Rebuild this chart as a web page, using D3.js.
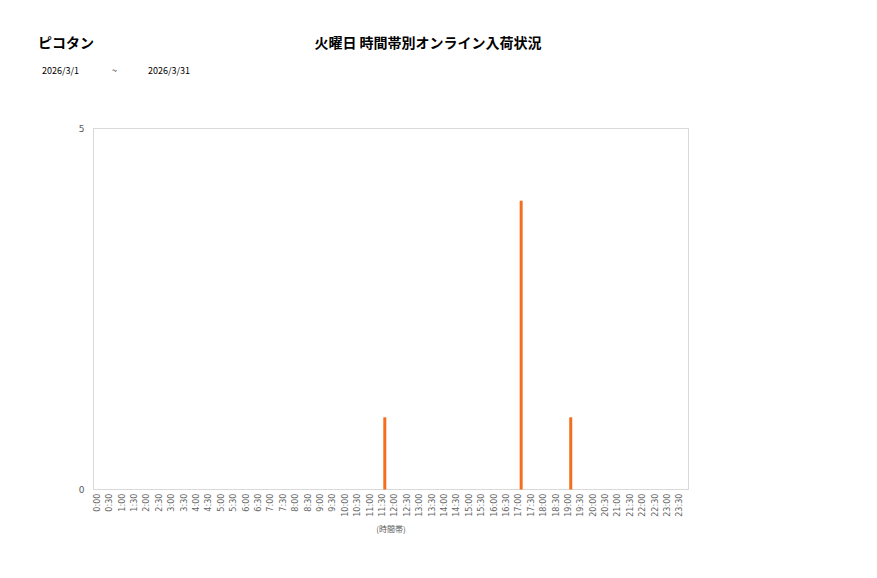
<!DOCTYPE html>
<html><head><meta charset="utf-8">
<script src="https://cdn.jsdelivr.net/npm/d3@7"></script>
<style>body{margin:0;background:#fff;font-family:"Noto Sans CJK JP","Noto Sans",sans-serif;}</style>
</head><body><svg id="c" width="877" height="578"></svg>
<script>
const categories = [];
for (let h = 0; h < 24; h++) { categories.push(h + ":00"); categories.push(h + ":30"); }
const values = categories.map(c => ({"11:30":1,"17:00":4,"19:00":1})[c] || 0);
const yTicks = [0, 5];
const title = "火曜日 時間帯別オンライン入荷状況";
const store = "ピコタン";
const dateFrom = "2026/3/1", dateTo = "2026/3/31";

const svg = d3.select("#c");
const m = {l:93.5, r:688.5, t:128.5, b:489.5};
const x = d3.scaleBand().domain(categories).range([m.l, m.r]);
const y = d3.scaleLinear().domain([0,5]).range([m.b, m.t]);

svg.append("rect").attr("x",m.l).attr("y",m.t).attr("width",m.r-m.l).attr("height",m.b-m.t)
  .attr("fill","none").attr("stroke","#d9d9d9").attr("stroke-width",1);

svg.selectAll(".bar").data(values).enter().append("rect")
  .attr("x",(d,i)=>x(categories[i])+x.bandwidth()/2-1.5).attr("width",3)
  .attr("y",d=>y(d)).attr("height",d=>y(0)-y(d)).attr("fill","#f36f1f");

const xa = svg.append("g").attr("transform",`translate(0,${m.b})`)
  .call(d3.axisBottom(x).tickSize(0).tickPadding(4));
xa.select(".domain").remove();
xa.selectAll("text").attr("transform","rotate(-90)").attr("text-anchor","end")
  .attr("x",-4).attr("y",-3).attr("dy","0.35em").attr("font-size","9px")
  .attr("fill","#666").attr("font-family","DejaVu Sans Condensed, DejaVu Sans, sans-serif");

const ya = svg.append("g").attr("transform",`translate(${m.l},0)`)
  .call(d3.axisLeft(y).tickValues(yTicks).tickFormat(d3.format("d")).tickSize(0).tickPadding(9));
ya.select(".domain").remove();
ya.selectAll("text").attr("font-size","9px").attr("fill","#595959").attr("font-family","DejaVu Sans, sans-serif");

svg.append("text").attr("x",38).attr("y",48).attr("font-size","14px").attr("font-weight","bold").attr("fill","#000").text(store);
svg.append("text").attr("x",428).attr("y",48).attr("text-anchor","middle").attr("font-size","14px").attr("font-weight","bold").attr("fill","#000").text(title);
svg.append("text").attr("x",42).attr("y",74).attr("font-size","9px").attr("fill","#000").text(dateFrom);
svg.append("text").attr("x",112).attr("y",74).attr("font-size","9px").attr("fill","#000").text("~");
svg.append("text").attr("x",148).attr("y",74).attr("font-size","9px").attr("fill","#000").text(dateTo);
svg.append("text").attr("x",391).attr("y",532).attr("text-anchor","middle").attr("font-size","8px").attr("fill","#595959").text("(時間帯)");
</script></body></html>
